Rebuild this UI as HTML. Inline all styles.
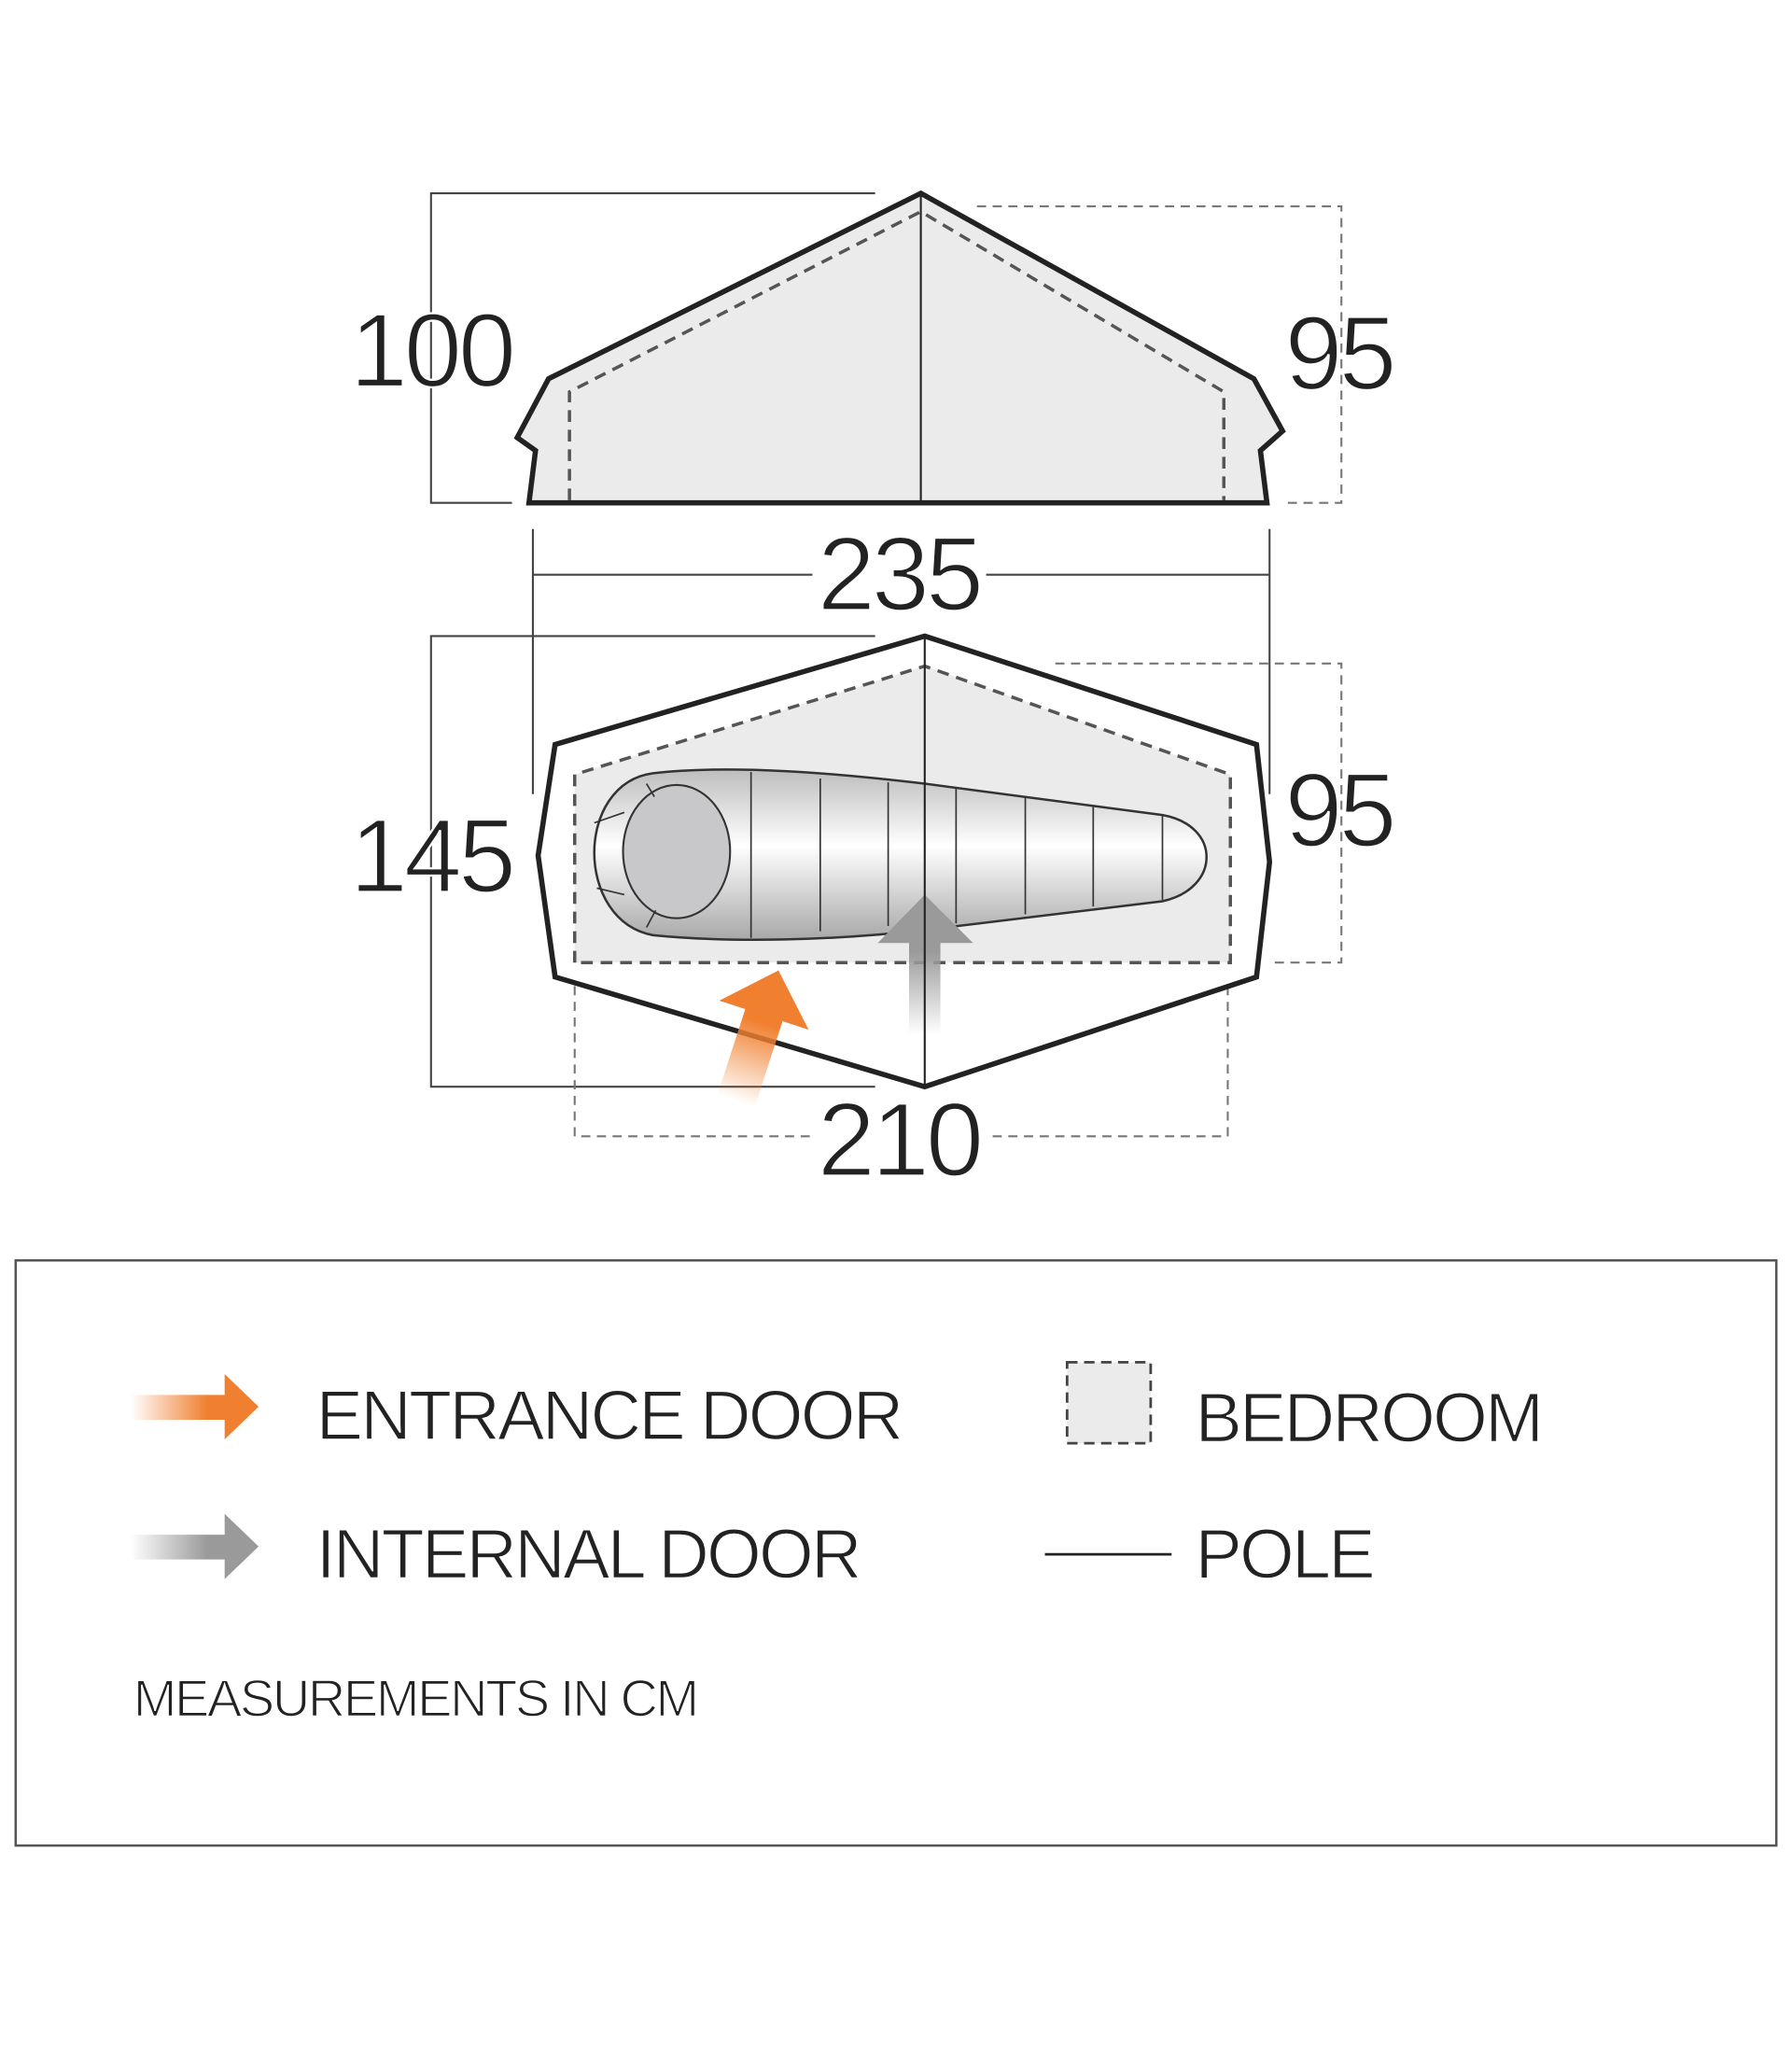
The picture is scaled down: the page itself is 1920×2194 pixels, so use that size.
<!DOCTYPE html>
<html><head><meta charset="utf-8"><style>
html,body{margin:0;padding:0;background:#fff;}
svg{display:block;}
text{font-family:"Liberation Sans",sans-serif;fill:#222;}
.thin{stroke:#fff;stroke-width:1.6;paint-order:normal;}
.thin2{stroke:#fff;stroke-width:1.1;}
</style></head><body>
<svg width="1920" height="2194" viewBox="0 0 1372 1568" preserveAspectRatio="none" xmlns="http://www.w3.org/2000/svg">
<defs>
<linearGradient id="bag" x1="0" y1="0" x2="0" y2="1">
<stop offset="0" stop-color="#bdbdbd"/><stop offset="0.45" stop-color="#ffffff"/><stop offset="1" stop-color="#a8a8a8"/>
</linearGradient>
<linearGradient id="og" x1="0" y1="1" x2="0" y2="0">
<stop offset="0" stop-color="#f08030" stop-opacity="0"/><stop offset="0.6" stop-color="#f08030"/><stop offset="1" stop-color="#f08030"/>
</linearGradient>
<linearGradient id="gg" x1="0" y1="1" x2="0" y2="0">
<stop offset="0" stop-color="#9a9a9a" stop-opacity="0"/><stop offset="0.6" stop-color="#9a9a9a"/><stop offset="1" stop-color="#9a9a9a"/>
</linearGradient>
<linearGradient id="ogh" x1="0" y1="0" x2="1" y2="0">
<stop offset="0" stop-color="#f08030" stop-opacity="0"/><stop offset="0.6" stop-color="#f08030"/><stop offset="1" stop-color="#f08030"/>
</linearGradient>
<linearGradient id="ggh" x1="0" y1="0" x2="1" y2="0">
<stop offset="0" stop-color="#9a9a9a" stop-opacity="0"/><stop offset="0.6" stop-color="#9a9a9a"/><stop offset="1" stop-color="#9a9a9a"/>
</linearGradient>
</defs>

<g stroke="#444" stroke-width="1.5" fill="none">
<polyline points="670,148 330,148 330,385 392,385"/>
</g>
<g stroke="#777" stroke-width="1.5" fill="none" stroke-dasharray="7,5">
<polyline points="748,158 1027,158 1027,385 985,385"/>
</g>
<polygon points="705,148 420,290 396,335 410,345 405,385 970,385 965,345 982,330 960,290" fill="#ecebeb" stroke="#222" stroke-width="4" stroke-linejoin="miter"/>
<polyline points="436,383 436,300 705,162 937,300 937,383" fill="none" stroke="#555" stroke-width="2.5" stroke-dasharray="9,6"/>
<line x1="705" y1="148" x2="705" y2="385" stroke="#222" stroke-width="1.5"/>
<text class="thin" x="330" y="296" font-size="80" text-anchor="middle" letter-spacing="-3">100</text>
<text class="thin" x="1025" y="298" font-size="80" text-anchor="middle" letter-spacing="-3">95</text>

<g stroke="#444" stroke-width="1.5">
<line x1="408" y1="440" x2="622" y2="440"/><line x1="755" y1="440" x2="972" y2="440"/>
<line x1="408" y1="405" x2="408" y2="608"/><line x1="972" y1="405" x2="972" y2="608"/>
</g>
<text class="thin" x="688" y="467" font-size="80" text-anchor="middle" letter-spacing="-3">235</text>

<g stroke="#444" stroke-width="1.5" fill="none">
<polyline points="670,487 330,487 330,832 670,832"/>
</g>
<g stroke="#777" stroke-width="1.5" fill="none" stroke-dasharray="7,5">
<polyline points="808,508 1027,508 1027,737 975,737"/>
<polyline points="620,870 440,870 440,740"/>
<polyline points="760,870 940,870 940,740"/>
</g>
<polygon points="708,487 962,570 972,660 962,748 708,832 425,748 412,655 425,570" fill="#fff" stroke="#222" stroke-width="4"/>
<polygon points="440,737 440,593 708,510 942,593 942,737" fill="#ecebeb" stroke="#555" stroke-width="2.5" stroke-dasharray="9,6"/>
<path d="M500,592 C560,585 640,592 708,600 L890,624 C935,632 935,680 890,690 L708,712 C640,720 560,722 500,716 C440,705 440,600 500,592 Z" fill="url(#bag)" stroke="#333" stroke-width="1.8"/>
<ellipse cx="518" cy="652" rx="41" ry="51" fill="#c8c8ca" stroke="#333" stroke-width="1.5"/>
<g stroke="#333" stroke-width="1.2">
<line x1="495" y1="600" x2="501" y2="610"/><line x1="455" y1="630" x2="478" y2="622"/>
<line x1="457" y1="680" x2="478" y2="685"/><line x1="495" y1="710" x2="502" y2="697"/>
<line x1="575" y1="591" x2="575" y2="718"/><line x1="628" y1="596" x2="628" y2="713"/>
<line x1="680" y1="599" x2="680" y2="709"/><line x1="732" y1="603" x2="732" y2="707"/>
<line x1="785" y1="610" x2="785" y2="700"/><line x1="837" y1="617" x2="837" y2="694"/>
<line x1="890" y1="624" x2="890" y2="689"/>
</g>
<path d="M696,792 L696,722 L672,722 L708,685 L745,722 L720,722 L720,792 Z" fill="url(#gg)"/>
<line x1="708" y1="487" x2="708" y2="832" stroke="#222" stroke-width="1.5"/>
<g transform="translate(596,743) rotate(18)">
<path d="M-15,105 L-15,36 L-36,36 L0,0 L36,36 L15,36 L15,105 Z" fill="url(#og)"/>
</g>
<text class="thin" x="330" y="683" font-size="80" text-anchor="middle" letter-spacing="-3">145</text>
<text class="thin" x="1025" y="648" font-size="80" text-anchor="middle" letter-spacing="-3">95</text>
<text class="thin" x="688" y="900" font-size="80" text-anchor="middle" letter-spacing="-3">210</text>

<rect x="12" y="965" width="1348" height="448" fill="#fff" stroke="#555" stroke-width="1.8"/>
<path d="M100,1068 L172,1068 L172,1052 L198,1077 L172,1102 L172,1087 L100,1087 Z" fill="url(#ogh)"/>
<path d="M100,1175 L172,1175 L172,1159 L198,1184 L172,1209 L172,1194 L100,1194 Z" fill="url(#ggh)"/>
<text class="thin2" x="242" y="1102" font-size="54" letter-spacing="-2">ENTRANCE DOOR</text>
<text class="thin2" x="242" y="1208" font-size="54" letter-spacing="-2">INTERNAL DOOR</text>
<text class="thin2" x="102" y="1314" font-size="40" letter-spacing="-1.7">MEASUREMENTS IN CM</text>
<rect x="817" y="1043" width="64" height="62" fill="#ecebeb" stroke="#444" stroke-width="2" stroke-dasharray="8,5"/>
<text class="thin2" x="915" y="1104" font-size="54" letter-spacing="-2">BEDROOM</text>
<line x1="800" y1="1190" x2="897" y2="1190" stroke="#222" stroke-width="2"/>
<text class="thin2" x="915" y="1208" font-size="54" letter-spacing="-2">POLE</text>
</svg>
</body></html>
